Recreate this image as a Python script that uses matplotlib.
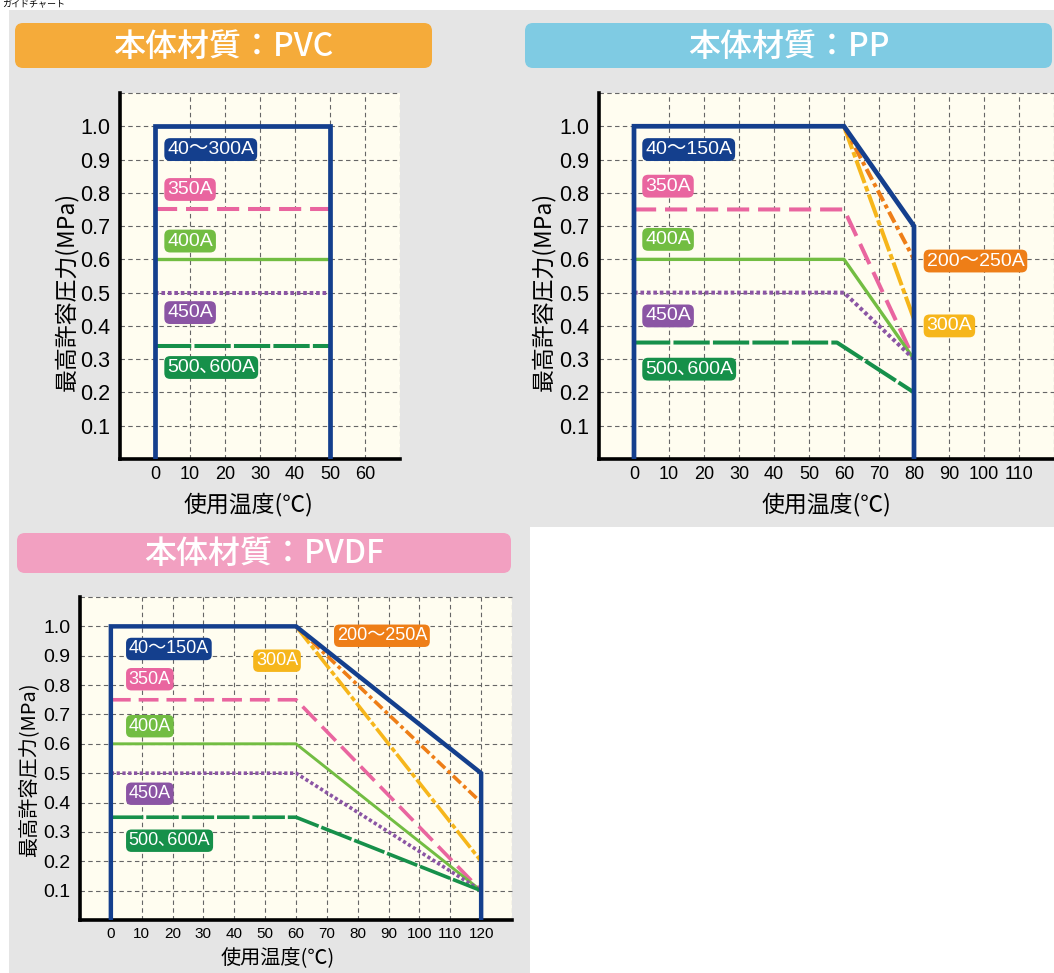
import matplotlib
matplotlib.use("Agg")
import matplotlib.pyplot as plt
from matplotlib.patches import Rectangle, FancyBboxPatch

# ---- data ----
Y_TICKS = [0.1, 0.2, 0.3, 0.4, 0.5, 0.6, 0.7, 0.8, 0.9, 1.0]
PVC_X_TICKS = [0, 10, 20, 30, 40, 50, 60]
PP_X_TICKS = [0, 10, 20, 30, 40, 50, 60, 70, 80, 90, 100, 110]
PVDF_X_TICKS = [0, 10, 20, 30, 40, 50, 60, 70, 80, 90, 100, 110, 120]

# PVC (upper left)
PVC_BLUE_T = [0, 0, 50, 50]
PVC_BLUE_P = [0, 1.0, 1.0, 0]
PVC_FLAT_T = [0, 50]
PVC_350A = [0.75, 0.75]
PVC_400A = [0.6, 0.6]
PVC_450A = [0.5, 0.5]
PVC_500A = [0.34, 0.34]
PVC_LABELS = ["40～300A", "350A", "400A", "450A", "500､600A"]

# PP (upper right)
PP_BLUE_T = [0, 0, 60, 80, 80]
PP_BLUE_P = [0, 1.0, 1.0, 0.7, 0]
PP_DROP_T = [60, 80]
PP_200A = [1.0, 0.6]
PP_300A = [1.0, 0.42]
PP_BEND_T = [0, 60, 80]
PP_350A = [0.75, 0.75, 0.3]
PP_400A = [0.6, 0.6, 0.3]
PP_450A = [0.5, 0.5, 0.3]
PP_500A_T = [0, 58, 80]
PP_500A = [0.35, 0.35, 0.2]
PP_LABELS = ["40～150A", "350A", "400A", "450A", "500､600A", "200～250A", "300A"]

# PVDF (lower left)
PVDF_BLUE_T = [0, 0, 60, 120, 120]
PVDF_BLUE_P = [0, 1.0, 1.0, 0.5, 0]
PVDF_DROP_T = [60, 120]
PVDF_200A = [1.0, 0.4]
PVDF_300A = [1.0, 0.2]
PVDF_BEND_T = [0, 60, 120]
PVDF_350A = [0.75, 0.75, 0.1]
PVDF_400A = [0.6, 0.6, 0.1]
PVDF_450A = [0.5, 0.5, 0.1]
PVDF_500A = [0.35, 0.35, 0.1]
PVDF_LABELS = PP_LABELS

TITLES = ["本体材質：PVC", "本体材質：PP", "本体材質：PVDF"]
Y_LABEL = "最高許容圧力(MPa)"
X_LABEL = "使用温度(℃)"

# ---- colours ----
BLUE = "#143f8d"
PINK = "#e9659f"
GREEN = "#72bd42"
PURPLE = "#8b55a4"
DKGREEN = "#16904a"
ORANGE = "#ee7e17"
YELLOW = "#f6b61b"
CREAM = "#fffdf0"
PANEL = "#e5e5e5"

CJK = ["Noto Sans CJK JP", "DejaVu Sans"]
NARROW = ["Liberation Sans Narrow", "Liberation Sans", "Noto Sans CJK JP"]
SANS = ["Liberation Sans", "Noto Sans CJK JP"]

W, H = 1054, 973
fig = plt.figure(figsize=(W / 100, H / 100), dpi=100)

bg = fig.add_axes([0, 0, 1, 1], zorder=-1)
bg.set_xlim(0, W)
bg.set_ylim(H, 0)
bg.axis("off")

# grey panels
bg.add_patch(Rectangle((9, 10), W - 9, 517, fc=PANEL, ec="none"))
bg.add_patch(Rectangle((9, 527), 521, H - 527, fc=PANEL, ec="none"))
# heading strip at the very top
bg.text(2, 0.5, "ガイドチャート", family=CJK, fontsize=6.5, color="black",
        va="top", ha="left")

# title boxes
for (x0, y0, x1, y1), col, txt in zip(
        [(15, 23, 432, 68), (525, 23, 1052, 68), (17, 533, 511, 573)],
        ["#f5ab3a", "#7fcbe3", "#f2a0c1"], TITLES):
    bg.add_patch(FancyBboxPatch((x0, y0), x1 - x0, y1 - y0,
                                boxstyle="round,pad=0,rounding_size=8",
                                fc=col, ec="none"))
    bg.text((x0 + x1) / 2, (y0 + y1) / 2 + 1, txt, family=CJK, fontsize=23,
            weight="medium", color="white", ha="center", va="center")


def make_axes(left, top, right, bottom, xmax, xticks, tick_fs, ytick_fs):
    ax = fig.add_axes([left / W, 1 - bottom / H, (right - left) / W,
                       (bottom - top) / H])
    ax.set_facecolor(CREAM)
    ax.set_xlim(-10, xmax)
    ax.set_ylim(0, 1.1)
    for s in ["top", "right"]:
        ax.spines[s].set_visible(False)
    for s in ["left", "bottom"]:
        ax.spines[s].set_linewidth(2.6)
        ax.spines[s].set_color("black")
    # dashed grid, including the top/right borders
    gx = range(10, int(xmax) + 1, 10)
    for v in gx:
        ax.axvline(v, color="#666666", lw=0.8, dashes=(4, 3), zorder=1)
    for v in [0.1, 0.2, 0.3, 0.4, 0.5, 0.6, 0.7, 0.8, 0.9, 1.0, 1.1]:
        ax.axhline(v, color="#666666", lw=0.8, dashes=(4, 3), zorder=1,
                   clip_on=False)
    ax.set_xticks(xticks)
    ax.set_xticklabels([str(t) for t in xticks], family=NARROW,
                       fontsize=tick_fs)
    ax.set_yticks(Y_TICKS)
    ax.set_yticklabels(["%.1f" % t for t in Y_TICKS], family=SANS,
                       fontsize=ytick_fs)
    ax.tick_params(length=0)
    ax.tick_params(axis="y", pad=7)
    ax.tick_params(axis="x", pad=5)
    return ax


def tag(ax, x, y, txt, col, fs):
    ax.text(x, y, txt, family=NARROW, fontsize=fs, color="white",
            ha="left", va="center", zorder=6,
            bbox=dict(boxstyle="round,pad=0.15,rounding_size=0.3",
                      fc=col, ec="none"))


def styled(ax, t, p, kind, lw=2.9):
    if kind == "350":
        ax.plot(t, p, color=PINK, lw=lw, dashes=(5.5, 2.2), zorder=3)
    elif kind == "400":
        ax.plot(t, p, color=GREEN, lw=lw - 0.5, zorder=3)
    elif kind == "450":
        ax.plot(t, p, color=PURPLE, lw=lw, dashes=(0.9, 0.7), zorder=3)
    elif kind == "500":
        ax.plot(t, p, color=DKGREEN, lw=lw, dashes=(9, 0.8), zorder=3)
    elif kind == "200":
        ax.plot(t, p, color=ORANGE, lw=lw, dashes=(3, 1, 1, 1), zorder=3)
    elif kind == "300":
        ax.plot(t, p, color=YELLOW, lw=lw, dashes=(6, 0.8, 1.4, 0.8),
                zorder=3)


# ---- PVC ----
ax1 = make_axes(120, 93, 400, 459, 70, PVC_X_TICKS, 13, 15.5)
styled(ax1, PVC_FLAT_T, PVC_350A, "350")
styled(ax1, PVC_FLAT_T, PVC_400A, "400")
styled(ax1, PVC_FLAT_T, PVC_450A, "450")
styled(ax1, PVC_FLAT_T, PVC_500A, "500")
ax1.plot(PVC_BLUE_T, PVC_BLUE_P, color=BLUE, lw=3.4, zorder=5,
         solid_joinstyle="miter")
for txt, y, col in zip(PVC_LABELS, [0.93, 0.81, 0.655, 0.44, 0.275],
                       [BLUE, PINK, GREEN, PURPLE, DKGREEN]):
    tag(ax1, 3.5, y, txt, col, 14)
bg.text(66, 291, Y_LABEL, family=CJK, fontsize=16.5, rotation=90,
        ha="center", va="center")
bg.text(248, 505, X_LABEL, family=CJK, fontsize=16.5, ha="center",
        va="center")

# ---- PP ----
ax2 = make_axes(599, 93, 1054, 459, 120, PP_X_TICKS, 13, 15.5)
styled(ax2, PP_BEND_T, PP_350A, "350")
styled(ax2, PP_BEND_T, PP_400A, "400")
styled(ax2, PP_BEND_T, PP_450A, "450")
styled(ax2, PP_500A_T, PP_500A, "500")
styled(ax2, PP_DROP_T, PP_300A, "300")
styled(ax2, PP_DROP_T, PP_200A, "200")
ax2.plot(PP_BLUE_T, PP_BLUE_P, color=BLUE, lw=3.4, zorder=5,
         solid_joinstyle="miter")
for txt, x, y, col in zip(PP_LABELS,
                          [3.2, 3.2, 3.2, 3.2, 3.2, 83.6, 83.6],
                          [0.93, 0.82, 0.66, 0.43, 0.27, 0.595, 0.40],
                          [BLUE, PINK, GREEN, PURPLE, DKGREEN, ORANGE, YELLOW]):
    tag(ax2, x, y, txt, col, 14)
bg.text(543, 291, Y_LABEL, family=CJK, fontsize=16.5, rotation=90,
        ha="center", va="center")
bg.text(826, 505, X_LABEL, family=CJK, fontsize=16.5, ha="center",
        va="center")

# ---- PVDF ----
ax3 = make_axes(80, 597, 512, 920, 130, PVDF_X_TICKS, 11, 14)
styled(ax3, PVDF_BEND_T, PVDF_350A, "350", lw=2.6)
styled(ax3, PVDF_BEND_T, PVDF_400A, "400", lw=2.6)
styled(ax3, PVDF_BEND_T, PVDF_450A, "450", lw=2.6)
styled(ax3, PVDF_BEND_T, PVDF_500A, "500", lw=2.6)
styled(ax3, PVDF_DROP_T, PVDF_300A, "300", lw=2.6)
styled(ax3, PVDF_DROP_T, PVDF_200A, "200", lw=2.6)
ax3.plot(PVDF_BLUE_T, PVDF_BLUE_P, color=BLUE, lw=3.2, zorder=5,
         solid_joinstyle="miter")
for txt, x, y, col in zip(PVDF_LABELS,
                          [5.8, 5.8, 5.8, 5.8, 5.8, 73.2, 47],
                          [0.923, 0.82, 0.66, 0.43, 0.27, 0.968, 0.883],
                          [BLUE, PINK, GREEN, PURPLE, DKGREEN, ORANGE, YELLOW]):
    tag(ax3, x, y, txt, col, 13)
bg.text(30, 770, Y_LABEL, family=CJK, fontsize=14.5, rotation=90,
        ha="center", va="center")
bg.text(278, 958, X_LABEL, family=CJK, fontsize=14.5, ha="center",
        va="center")

fig.savefig("out.png", dpi=100)
